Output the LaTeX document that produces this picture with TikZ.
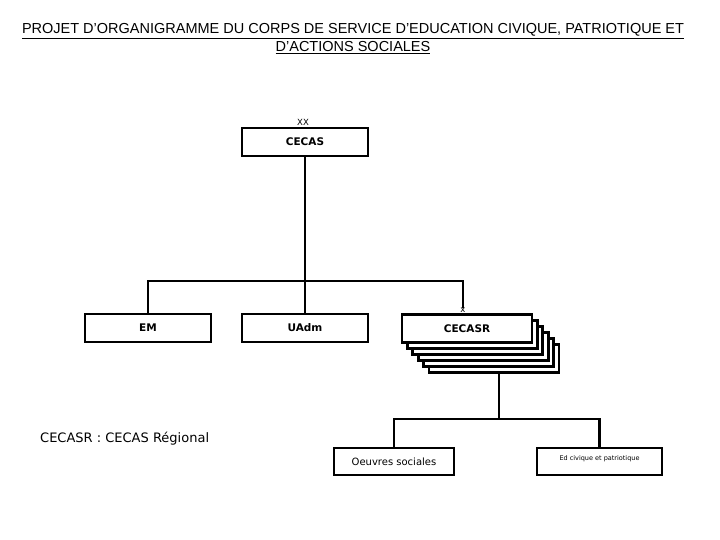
\documentclass[tikz,border=0pt]{standalone}
\usepackage{fontspec}
\setmainfont{DejaVu Sans}
\newfontfamily\titlefont{Liberation Sans}
\usetikzlibrary{positioning, calc}

\begin{document}
\begin{tikzpicture}[
  x=1pt, y=-1pt,
  lien/.style={line width=2.8pt},
  orgbox/.style={draw=black, fill=white, line width=2.8pt, inner sep=0pt,
                 minimum width=126pt, minimum height=28pt, align=center,
                 font=\bfseries\fontsize{10.5}{12}\selectfont},
  subbox/.style={orgbox, minimum width=120pt, minimum height=27pt,
                 font=\fontsize{10}{12}\selectfont},
  grade/.style={inner sep=0pt, font=\fontsize{8.5}{9}\selectfont},
  titre/.style={anchor=base, inner sep=0pt, font=\titlefont\fontsize{14.5}{16}\selectfont},
]
\useasboundingbox (0,0) rectangle (720,540);

% ===== Titre =====
  \node[titre] (T1) at (353,34) {\underline{PROJET D’ORGANIGRAMME DU CORPS DE SERVICE D’EDUCATION CIVIQUE, PATRIOTIQUE ET}};
  \node[titre] (T2) at (353,52) {\underline{D’ACTIONS SOCIALES}};

% ===== Niveau 1 : CECAS =====
  \node[orgbox] (CECAS) at (305,142) {CECAS};
  \node[grade, above=1pt of CECAS, xshift=-2pt] (xxC) {XX};

% ===== Niveau 2 : EM, UAdm, CECASR =====
  \node[orgbox] (EM) at (148,328) {EM};
  \node[orgbox] (UAdm) at (305,328) {UAdm};
  \foreach \k in {5,4,3,2,1}
    \node[orgbox, minimum width=130pt] (S\k) at ({467+5.4*\k},{328.5+6*\k}) {};
  \node[orgbox, minimum width=130pt] (CECASR) at (467,328.5) {CECASR};
  \node[grade, anchor=south] (xR) at (463,313) {x};

  \coordinate (hub1) at (305,281);
  \draw[lien] (CECAS.south) -- (UAdm.north);
  \draw[lien] (EM.north) |- (hub1) -| (xR.north);

% ===== Niveau 3 : sous CECASR =====
  \node[subbox] (OS) at (394,461.5) {Oeuvres sociales};
  \node[subbox, minimum width=125pt, font=\fontsize{6.5}{8}\selectfont,
        text height=5pt, text depth=8pt] (ED) at (599.5,461.5) {Ed civique et patriotique};

  \coordinate (hub2) at (499,419);
  \draw[lien] (hub2 |- S5.south) -- (hub2);
  \draw[lien] (OS.north) |- (hub2) -| (ED.north);

% ===== Legende =====
  \node[anchor=base west, inner sep=0pt, font=\fontsize{13}{15}\selectfont]
    (leg) at (40,442) {CECASR : CECAS Régional};

\end{tikzpicture}
\end{document}
